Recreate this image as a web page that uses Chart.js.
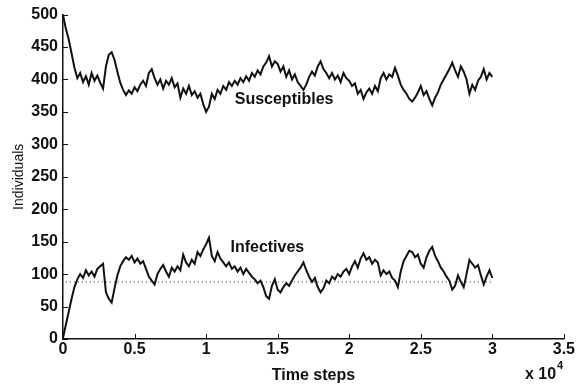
<!DOCTYPE html>
<html>
<head>
<meta charset="utf-8">
<script src="https://cdn.jsdelivr.net/npm/chart.js@4.4.0/dist/chart.umd.min.js"></script>
<style>
  html, body { margin: 0; padding: 0; background: #fff; }
  #wrap { width: 576px; height: 385px; }
</style>
</head>
<body>
<div id="wrap"><canvas id="sirChart"></canvas></div>
<script>
// time axis in units of 10^4 steps, one reading every 0.02
const timeStep = 0.02;
const xTicks = [0, 0.5, 1, 1.5, 2, 2.5, 3, 3.5];
const yTicks = [0, 50, 100, 150, 200, 250, 300, 350, 400, 450, 500];

const susceptibles = [
  500, 478, 462, 440, 418, 402, 410, 396, 405, 392, 410, 398, 406, 395, 386, 420, 438, 442, 430, 412,
  395, 384, 376, 383, 378, 388, 382, 392, 398, 390, 410, 416, 402, 392, 400, 386, 398, 392, 402, 388,
  394, 372, 386, 378, 390, 376, 382, 372, 378, 362, 350, 358, 378, 370, 384, 378, 390, 384, 396, 390,
  398, 392, 402, 396, 405, 398, 410, 404, 414, 408, 420, 426, 436, 420, 428, 424, 412, 420, 404, 414,
  400, 408, 396, 390, 384, 392, 404, 412, 406, 420, 428, 416, 410, 402, 410, 400, 406, 396, 410, 402,
  398, 390, 394, 378, 384, 370, 380, 386, 378, 390, 382, 402, 410, 400, 408, 404, 418, 406, 392, 384,
  378, 370, 366, 372, 380, 390, 376, 382, 370, 360, 372, 380, 392, 400, 408, 416, 426, 414, 404, 420,
  412, 400, 378, 392, 384, 398, 404, 416, 400, 410, 404
];

const infectives = [
  2, 22, 42, 62, 80, 92, 100, 94, 106, 98, 104, 96, 108, 112, 116, 72, 62, 56, 78, 98,
  112, 120, 126, 122, 128, 118, 124, 116, 120, 108, 96, 90, 84, 100, 108, 114, 104, 96, 110, 104,
  112, 106, 130, 118, 112, 122, 116, 134, 128, 138, 146, 156, 128, 120, 134, 124, 118, 112, 118, 108,
  112, 104, 110, 100, 108, 102, 96, 92, 86, 90, 80, 66, 62, 82, 92, 76, 72, 80, 86, 82,
  90, 98, 104, 110, 118, 106, 96, 88, 94, 80, 72, 78, 90, 86, 96, 92, 100, 96, 104, 108,
  100, 112, 120, 110, 124, 132, 122, 126, 116, 122, 118, 98, 106, 100, 104, 94, 90, 80, 104, 120,
  128, 136, 134, 126, 130, 116, 110, 126, 136, 142, 128, 120, 110, 104, 96, 90, 76, 82, 98, 88,
  80, 100, 122, 116, 110, 114, 98, 84, 96, 106, 94
];

// endemic equilibrium level for infectives (dotted)
const equilibriumT = [0.02, 3.0];
const equilibriumI = [88, 88];

const curveLabels = [
  { text: 'Susceptibles', t: 1.2, v: 369 },
  { text: 'Infectives', t: 1.17, v: 141 }
];

const FONT = '"Liberation Sans", Arial, sans-serif';

function toPoints(values) {
  return values.map((v, i) => ({ x: +(i * timeStep).toFixed(2), y: v }));
}

// matlab-style ticks pointing into the plot, curve labels and the x10^4 note
const extras = {
  id: 'extras',
  afterDraw(chart) {
    const c = chart.ctx;
    const xs = chart.scales.x, ys = chart.scales.y;
    const area = chart.chartArea;
    c.save();
    c.strokeStyle = '#111';
    c.lineWidth = 1;
    c.beginPath();
    yTicks.forEach(v => {
      const py = Math.round(ys.getPixelForValue(v)) + 0.5;
      c.moveTo(area.left, py);
      c.lineTo(area.left + 5, py);
    });
    xTicks.forEach(v => {
      const px = Math.round(xs.getPixelForValue(v)) + 0.5;
      c.moveTo(px, area.bottom);
      c.lineTo(px, area.bottom - 5);
    });
    c.stroke();

    c.fillStyle = '#111';
    c.font = 'bold 16px ' + FONT;
    c.textBaseline = 'middle';
    c.textAlign = 'left';
    curveLabels.forEach(l => {
      c.fillText(l.text, xs.getPixelForValue(l.t), ys.getPixelForValue(l.v));
    });

    c.font = 'bold 16px ' + FONT;
    c.fillText('x 10', 525, 375);
    c.font = 'bold 11px ' + FONT;
    c.fillText('4', 557, 366);
    c.restore();
  }
};

new Chart(document.getElementById('sirChart'), {
  type: 'line',
  data: {
    datasets: [
      {
        label: 'Susceptibles',
        data: toPoints(susceptibles),
        borderColor: '#111',
        borderWidth: 2,
        pointRadius: 0,
        tension: 0
      },
      {
        label: 'Infectives',
        data: toPoints(infectives),
        borderColor: '#111',
        borderWidth: 2,
        pointRadius: 0,
        tension: 0
      },
      {
        label: 'Equilibrium',
        data: equilibriumT.map((t, i) => ({ x: t, y: equilibriumI[i] })),
        borderColor: '#333',
        borderWidth: 1,
        borderDash: [1, 3],
        pointRadius: 0
      }
    ]
  },
  options: {
    responsive: true,
    maintainAspectRatio: false,
    animation: false,
    layout: { padding: { top: 6, right: 9, left: 11, bottom: 0 } },
    plugins: {
      legend: { display: false },
      tooltip: { enabled: false }
    },
    scales: {
      x: {
        type: 'linear',
        min: 0,
        max: 3.5,
        afterBuildTicks: s => { s.ticks = xTicks.map(v => ({ value: v })); },
        afterFit: s => { s.height = 46; },
        grid: { display: false, drawTicks: false },
        border: { display: true, color: '#111', width: 1.5 },
        ticks: {
          color: '#111',
          padding: 1,
          maxRotation: 0,
          font: { family: FONT, size: 16, weight: 'bold' },
          callback: v => String(v)
        },
        title: {
          display: true,
          text: 'Time steps',
          color: '#111',
          padding: { top: -5, bottom: 0 },
          font: { family: FONT, size: 16, weight: 'bold' }
        }
      },
      y: {
        min: 0,
        max: 500,
        afterBuildTicks: s => { s.ticks = yTicks.map(v => ({ value: v })); },
        afterFit: s => { s.width = 52; },
        grid: { display: false, drawTicks: false },
        border: { display: true, color: '#111', width: 1.5 },
        ticks: {
          color: '#111',
          padding: 5,
          font: { family: FONT, size: 16, weight: 'bold' }
        },
        title: {
          display: true,
          text: 'Individuals',
          color: '#111',
          padding: { top: 0, bottom: 0 },
          font: { family: FONT, size: 14 }
        }
      }
    }
  },
  plugins: [extras]
});
</script>
</body>
</html>
